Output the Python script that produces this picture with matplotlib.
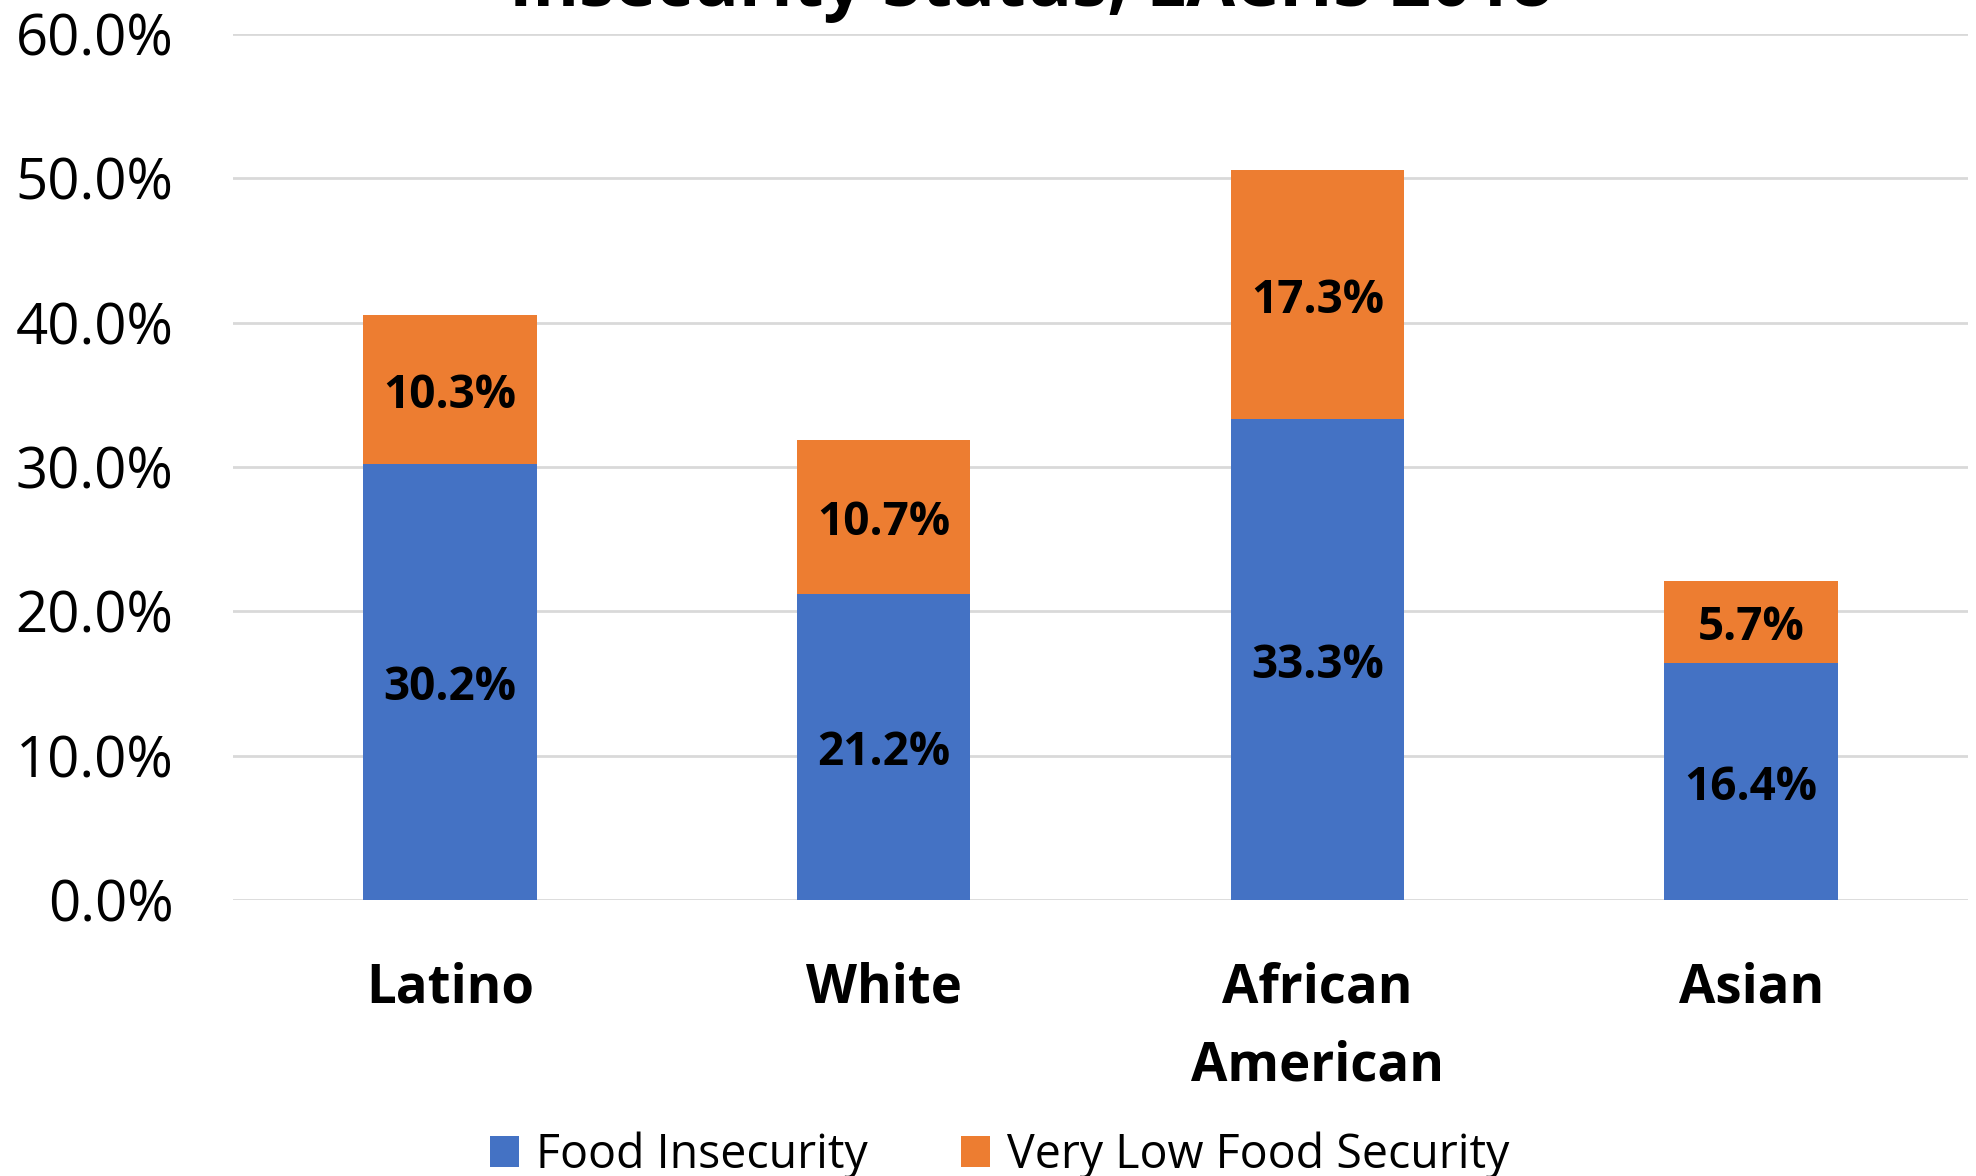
import matplotlib
matplotlib.use("Agg")
import matplotlib.pyplot as plt
from matplotlib.patches import Patch
from matplotlib.ticker import FuncFormatter
import numpy as np

plt.rcParams['font.family'] = ['Open Sans', 'DejaVu Sans']

categories = ["Latino", "White", "African\nAmerican", "Asian"]
food_insecurity = [30.2, 21.2, 33.3, 16.4]
very_low_security = [10.3, 10.7, 17.3, 5.7]
series_names = ["Food Insecurity", "Very Low Food Security"]
y_ticks = [0, 10, 20, 30, 40, 50, 60]
title_text = "Insecurity Status, LACHS 2018"

blue = "#4472C4"
orange = "#ED7D31"
grid_color = "#D9D9D9"

W, H = 1976, 1176
fig = plt.figure(figsize=(W / 100, H / 100), dpi=100)
ax = fig.add_axes([233 / W, 1 - 900 / H, (1968 - 233) / W, (900 - 34) / H])

x = np.arange(len(categories))
bar_w = 0.4
b1 = ax.bar(x, food_insecurity, width=bar_w, color=blue, zorder=3)
b2 = ax.bar(x, very_low_security, width=bar_w, bottom=food_insecurity,
            color=orange, zorder=3)

# value labels centred in each stacked segment
for vals, bottoms in ((food_insecurity, [0] * 4),
                      (very_low_security, food_insecurity)):
    for xi, v, b in zip(x, vals, bottoms):
        ax.text(xi, b + v / 2, f"{v:.1f}%", ha="center", va="center_baseline",
                fontsize=33, fontweight="bold", color="black", zorder=4)

ax.set_xlim(-0.5, 3.5)
ax.set_ylim(0, 60)
ax.set_yticks(y_ticks)
ax.yaxis.set_major_formatter(FuncFormatter(lambda v, p: f"{v:.1f}%"))
ax.set_xticks(x)
ax.set_xticklabels(categories, fontsize=38, fontweight="bold", linespacing=1.6)
ax.tick_params(axis="y", length=0, pad=43, labelsize=40.5)
ax.tick_params(axis="x", length=0, pad=44)
ax.grid(axis="y", color=grid_color, linewidth=2, zorder=0)
for s in ax.spines.values():
    s.set_visible(False)

fig.text(1031 / W, 1 - 6 / H, title_text, ha="center", va="baseline",
         fontsize=51, fontweight="bold")

handles = [Patch(facecolor=blue), Patch(facecolor=orange)]
fig.legend(handles, series_names, loc="center", ncol=2,
           bbox_to_anchor=(1000 / W, 1 - 1155 / H), frameon=False,
           fontsize=33.5, handlelength=0.62, handleheight=0.65,
           handletextpad=0.37, columnspacing=2.0, borderpad=0, borderaxespad=0)

fig.savefig("out.png", dpi=100)
